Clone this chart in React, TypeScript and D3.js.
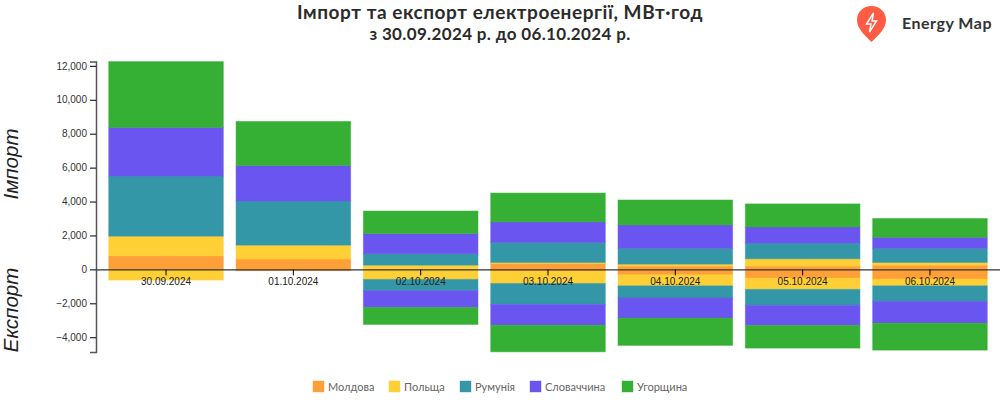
import { useEffect, useRef } from "react";
import * as d3 from "d3";

const days = ["30.09.2024", "01.10.2024", "02.10.2024", "03.10.2024", "04.10.2024", "05.10.2024", "06.10.2024"];
const countries = ["Молдова", "Польща", "Румунія", "Словаччина", "Угорщина"];
const colors = ["#ff9f37", "#ffd035", "#3397a8", "#6a55f0", "#35b035"];

// MWh per day
const importMoldova = [800, 610, 0, 350, 195, 195, 250];
const importPoland = [1160, 820, 250, 60, 115, 430, 160];
const importRomania = [3540, 2600, 670, 1180, 930, 925, 830];
const importSlovakia = [2870, 2090, 1190, 1210, 1380, 950, 650];
const importHungary = [3880, 2600, 1330, 1700, 1470, 1360, 1110];

const exportMoldova = [0, 70, 0, 100, 320, 510, 570];
const exportPoland = [630, 0, 590, 730, 650, 670, 400];
const exportRomania = [0, 0, 670, 1235, 720, 940, 920];
const exportSlovakia = [0, 0, 980, 1225, 1180, 1180, 1280];
const exportHungary = [0, 0, 1005, 1570, 1610, 1340, 1590];

const yDomain = [-4870, 12250];
const legendX = [313, 389, 460, 530, 622];

const importSeries = [importMoldova, importPoland, importRomania, importSlovakia, importHungary];
const exportSeries = [exportMoldova, exportPoland, exportRomania, exportSlovakia, exportHungary];

const uiFont = "Lato, 'Noto Sans', sans-serif";

const App = () => {
  const svgRef = useRef<SVGSVGElement>(null);

  useEffect(() => {
    const svg = d3.select(svgRef.current);
    svg.selectAll("*").remove();

    const x = d3.scaleBand().domain(days).range([96, 1000]).padding(0.1);
    const y = d3.scaleLinear().domain(yDomain).range([352, 61.6]);

    const toRows = (table: number[][], sign: number) =>
      days.map((day, i) => {
        const row: any = { day };
        countries.forEach((c, k) => (row[c] = sign * table[k][i]));
        return row;
      });

    const stack = d3.stack<any>().keys(countries).offset(d3.stackOffsetDiverging);

    // export drawn first, import over it
    [stack(toRows(exportSeries, -1)), stack(toRows(importSeries, 1))].forEach((layers) => {
      const g = svg.append("g");
      layers.forEach((layer, k) => {
        g.selectAll(null)
          .data(layer.filter((d) => d[1] !== d[0]))
          .enter()
          .append("rect")
          .attr("x", (d) => x(d.data.day)!)
          .attr("width", x.bandwidth())
          .attr("y", (d) => y(Math.max(d[0], d[1])))
          .attr("height", (d) => Math.abs(y(d[0]) - y(d[1])))
          .attr("fill", colors[k])
          .attr("stroke", colors[k])
          .attr("stroke-opacity", 0.5);
      });
    });

    // axes
    const yAxis = svg
      .append("g")
      .attr("transform", "translate(96,0)")
      .call(d3.axisLeft(y).tickValues([-4000, -2000, 0, 2000, 4000, 6000, 8000, 10000, 12000]));
    yAxis.select(".domain").attr("stroke", "#555").attr("stroke-width", 1.5);
    yAxis.selectAll("text").attr("fill", "#333").attr("font-family", "'Liberation Sans', Arial, sans-serif");

    const xAxis = svg
      .append("g")
      .attr("transform", `translate(0,${y(0)})`)
      .call(d3.axisBottom(x).tickSizeOuter(0));
    xAxis.select(".domain").attr("stroke", "#333").attr("stroke-width", 1.2);
    xAxis.selectAll("text").attr("fill", "#222").attr("font-family", "'Liberation Sans', Arial, sans-serif");

    // y labels
    const yLabel = (text: string, cy: number) =>
      svg
        .append("text")
        .attr("transform", `translate(18,${cy}) rotate(-90)`)
        .attr("text-anchor", "middle")
        .attr("font-family", "'Liberation Sans', Arial, sans-serif")
        .attr("font-style", "italic")
        .attr("font-size", 20.5)
        .attr("fill", "#222")
        .text(text);
    yLabel("Імпорт", 164);
    yLabel("Експорт", 310);

    // title
    svg
      .append("text")
      .attr("x", 500)
      .attr("y", 19)
      .attr("text-anchor", "middle")
      .attr("font-family", uiFont)
      .attr("font-weight", 700)
      .attr("font-size", 19)
      .attr("letter-spacing", 0.55)
      .attr("fill", "#2b2b2b")
      .text("Імпорт та експорт електроенергії, МВт·год");
    svg
      .append("text")
      .attr("x", 500)
      .attr("y", 40)
      .attr("text-anchor", "middle")
      .attr("font-family", uiFont)
      .attr("font-weight", 700)
      .attr("font-size", 17)
      .attr("letter-spacing", 0.35)
      .attr("fill", "#2b2b2b")
      .text("з 30.09.2024 р. до 06.10.2024 р.");

    // legend
    const legend = svg
      .selectAll(null)
      .data(countries)
      .enter()
      .append("g")
      .attr("transform", (_, i) => `translate(${legendX[i]},381)`);
    legend
      .append("rect")
      .attr("width", 11)
      .attr("height", 11)
      .attr("fill", (_, i) => colors[i])
      .attr("stroke", (_, i) => colors[i])
      .attr("stroke-opacity", 0.4);
    legend
      .append("text")
      .attr("x", 15)
      .attr("y", 10)
      .attr("font-family", uiFont)
      .attr("font-size", 11)
      .attr("fill", "#666")
      .text((d) => d);

    // logo
    const logo = svg.append("g").attr("transform", "translate(871.5,23)");
    logo
      .append("path")
      .attr("d", "M0,-17 C8,-17 14.5,-11 14.5,-3 C14.5,6 6,13 0,19 C-6,13 -14.5,6 -14.5,-3 C-14.5,-11 -8,-17 0,-17 Z")
      .attr("fill", "#ff5c45");
    logo
      .append("path")
      .attr("d", "M2,-10 L-5,1 L-0.5,1 L-2,9 L5,-2 L0.5,-2 Z")
      .attr("fill", "none")
      .attr("stroke", "#fff")
      .attr("stroke-width", 1.4);
    svg
      .append("text")
      .attr("x", 902)
      .attr("y", 29)
      .attr("font-family", uiFont)
      .attr("font-weight", 700)
      .attr("font-size", 16)
      .attr("letter-spacing", 0.5)
      .attr("fill", "#333")
      .text("Energy Map");
  }, []);

  return <svg ref={svgRef} width={1000} height={400} style={{ position: "absolute", left: 0, top: 0 }} />;
};

export default App;
